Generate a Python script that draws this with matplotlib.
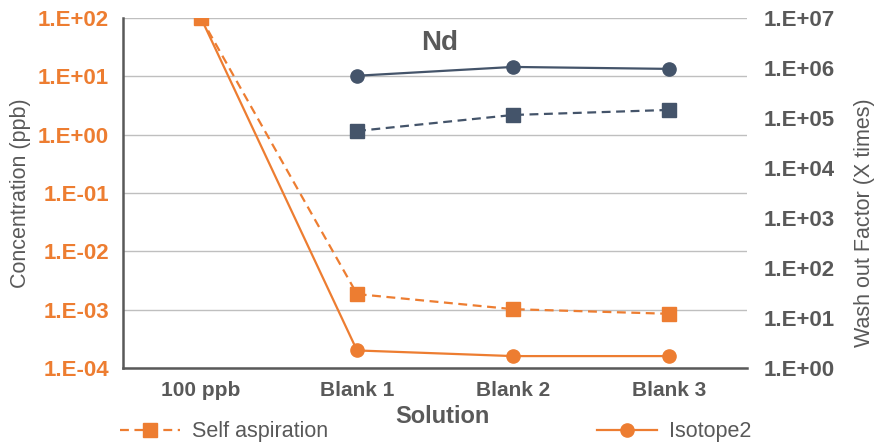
import matplotlib
matplotlib.use("Agg")
import matplotlib.pyplot as plt
from matplotlib.ticker import FixedLocator, NullLocator

categories = ["100 ppb", "Blank 1", "Blank 2", "Blank 3"]

# Concentration (ppb), left axis
self_aspiration = [100, 1.85e-3, 1.02e-3, 0.85e-3]
isotope2 = [100, 2.0e-4, 1.6e-4, 1.6e-4]

# Wash out factor, right axis (no value for 100 ppb)
wash_blanks = ["Blank 1", "Blank 2", "Blank 3"]
wash_isotope2 = [7.0e5, 1.05e6, 9.6e5]
wash_self = [5.5e4, 1.15e5, 1.45e5]

left_ticks = [1e-4, 1e-3, 1e-2, 1e-1, 1e0, 1e1, 1e2]
left_labels = ["1.E-04", "1.E-03", "1.E-02", "1.E-01", "1.E+00", "1.E+01", "1.E+02"]
right_ticks = [1e0, 1e1, 1e2, 1e3, 1e4, 1e5, 1e6, 1e7]
right_labels = ["1.E+00", "1.E+01", "1.E+02", "1.E+03", "1.E+04", "1.E+05", "1.E+06", "1.E+07"]

orange = "#ED7D31"
navy = "#44546A"
gray = "#595959"

plt.rcParams["font.family"] = ["Liberation Sans", "DejaVu Sans"]

W, H = 877, 445
fig = plt.figure(figsize=(W / 100, H / 100), dpi=100)
ax = fig.add_axes([123 / W, 1 - 368 / H, (747 - 123) / W, 350 / H])
ax2 = ax.twinx()

x = list(range(len(categories)))
xb = [categories.index(c) for c in wash_blanks]

ax.plot(x, self_aspiration, color=orange, ls=(0, (4, 2.5)), lw=1.6,
        marker="s", ms=9.5, label="Self aspiration")
ax.plot(x, isotope2, color=orange, ls="-", lw=1.6,
        marker="o", ms=9.5, label="Isotope2")

ax2.plot(xb, wash_isotope2, color=navy, ls="-", lw=1.6, marker="o", ms=9.5)
ax2.plot(xb, wash_self, color=navy, ls=(0, (4, 2.5)), lw=1.6, marker="s", ms=9.5)

ax.set_yscale("log")
ax.set_ylim(1e-4, 1e2)
ax.yaxis.set_major_locator(FixedLocator(left_ticks))
ax.yaxis.set_minor_locator(NullLocator())
ax.set_yticklabels(left_labels, color=orange, fontweight="bold", fontsize=16)

ax2.set_yscale("log")
ax2.set_ylim(1e0, 1e7)
ax2.yaxis.set_major_locator(FixedLocator(right_ticks))
ax2.yaxis.set_minor_locator(NullLocator())
ax2.set_yticklabels(right_labels, color=gray, fontweight="bold", fontsize=16)

ax.set_xlim(-0.5, 3.5)
ax.set_xticks(x)
ax.set_xticklabels(categories, color=gray, fontweight="bold", fontsize=15)

ax.grid(axis="y", color="#BFBFBF", lw=1)
ax.set_axisbelow(True)
ax.tick_params(axis="y", length=0, pad=10)
ax2.tick_params(axis="y", length=0, pad=12)
ax.tick_params(axis="x", length=0, pad=9)

for a in (ax, ax2):
    for s in ("top", "right"):
        a.spines[s].set_visible(False)
ax2.spines["left"].set_visible(False)
ax2.spines["bottom"].set_visible(False)
ax.spines["left"].set_color(gray)
ax.spines["bottom"].set_color(gray)
ax.spines["left"].set_linewidth(1.8)
ax.spines["bottom"].set_linewidth(1.8)

ax.set_ylabel("Concentration (ppb)", color=gray, fontsize=15.5, labelpad=5)
ax2.set_ylabel("Wash out Factor (X times)", color=gray, fontsize=15.5)
ax2.yaxis.set_label_coords(1.172, 0.415)
ax.set_xlabel("Solution", color=gray, fontweight="bold", fontsize=17)
ax.xaxis.set_label_coords(0.512, -0.105)

fig.text(440 / W, 1 - 43 / H, "Nd", color=gray, fontweight="bold",
         fontsize=20, ha="center", va="center")

h, l = ax.get_legend_handles_labels()
leg_kw = dict(frameon=False, fontsize=15.5, handlelength=2.8, handletextpad=0.55,
              labelcolor=gray, borderaxespad=0, borderpad=0)
fig.legend([h[0]], [l[0]], loc="center left", bbox_to_anchor=(120 / W, 1 - 432 / H), **leg_kw)
fig.legend([h[1]], [l[1]], loc="center left", bbox_to_anchor=(597 / W, 1 - 432 / H), **leg_kw)

fig.savefig("out.png", dpi=100)
